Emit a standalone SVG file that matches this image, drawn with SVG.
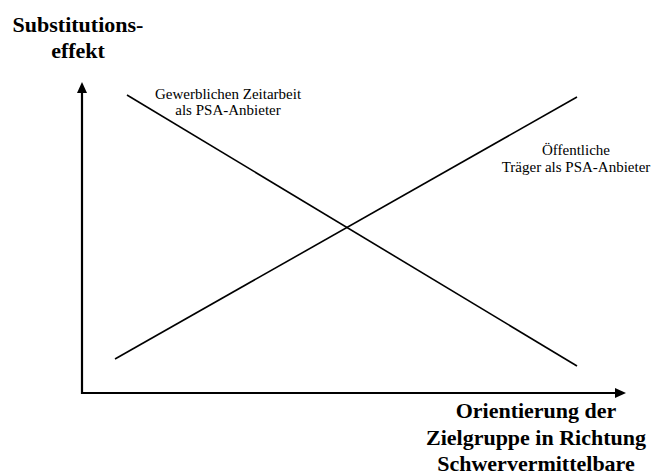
<svg xmlns="http://www.w3.org/2000/svg" width="652" height="476" viewBox="0 0 652 476">
<style>
.ax{stroke:#000;stroke-width:2.2;fill:none}
.ln{stroke:#000;stroke-width:1.6;fill:none}
text{font-family:'Liberation Serif','Times New Roman','DejaVu Serif',serif;fill:#000;text-anchor:middle}
.b{font-weight:bold;font-size:22px}
.s{font-size:15px}
</style>
<defs>
<marker id="ah" markerWidth="11" markerHeight="10" refX="1" refY="5" orient="auto" markerUnits="userSpaceOnUse">
<path d="M0,0 L11,5 L0,10 Z" fill="#000"/>
</marker>
</defs>
<rect width="652" height="476" fill="#fff"/>
<g id="axes">
<path class="ax" d="M82,394 L82,92" marker-end="url(#ah)"/>
<path class="ax" d="M81,393 L616,393" marker-end="url(#ah)"/>
</g>
<g id="connectors">
<line class="ln" x1="127" y1="95" x2="577" y2="366"/>
<line class="ln" x1="115" y1="359" x2="577" y2="97"/>
</g>
<g id="ylabel">
<text class="b" x="78" y="32">Substitutions-</text>
<text class="b" x="78" y="58">effekt</text>
</g>
<g id="label1">
<text class="s" x="228" y="99">Gewerblichen Zeitarbeit</text>
<text class="s" x="228" y="115">als PSA-Anbieter</text>
</g>
<g id="label2">
<text class="s" x="576" y="155">Öffentliche</text>
<text class="s" x="576" y="172">Träger als PSA-Anbieter</text>
</g>
<g id="xlabel">
<text class="b" x="536" y="418">Orientierung der</text>
<text class="b" x="536" y="445">Zielgruppe in Richtung</text>
<text class="b" x="536" y="471">Schwervermittelbare</text>
</g>
</svg>
